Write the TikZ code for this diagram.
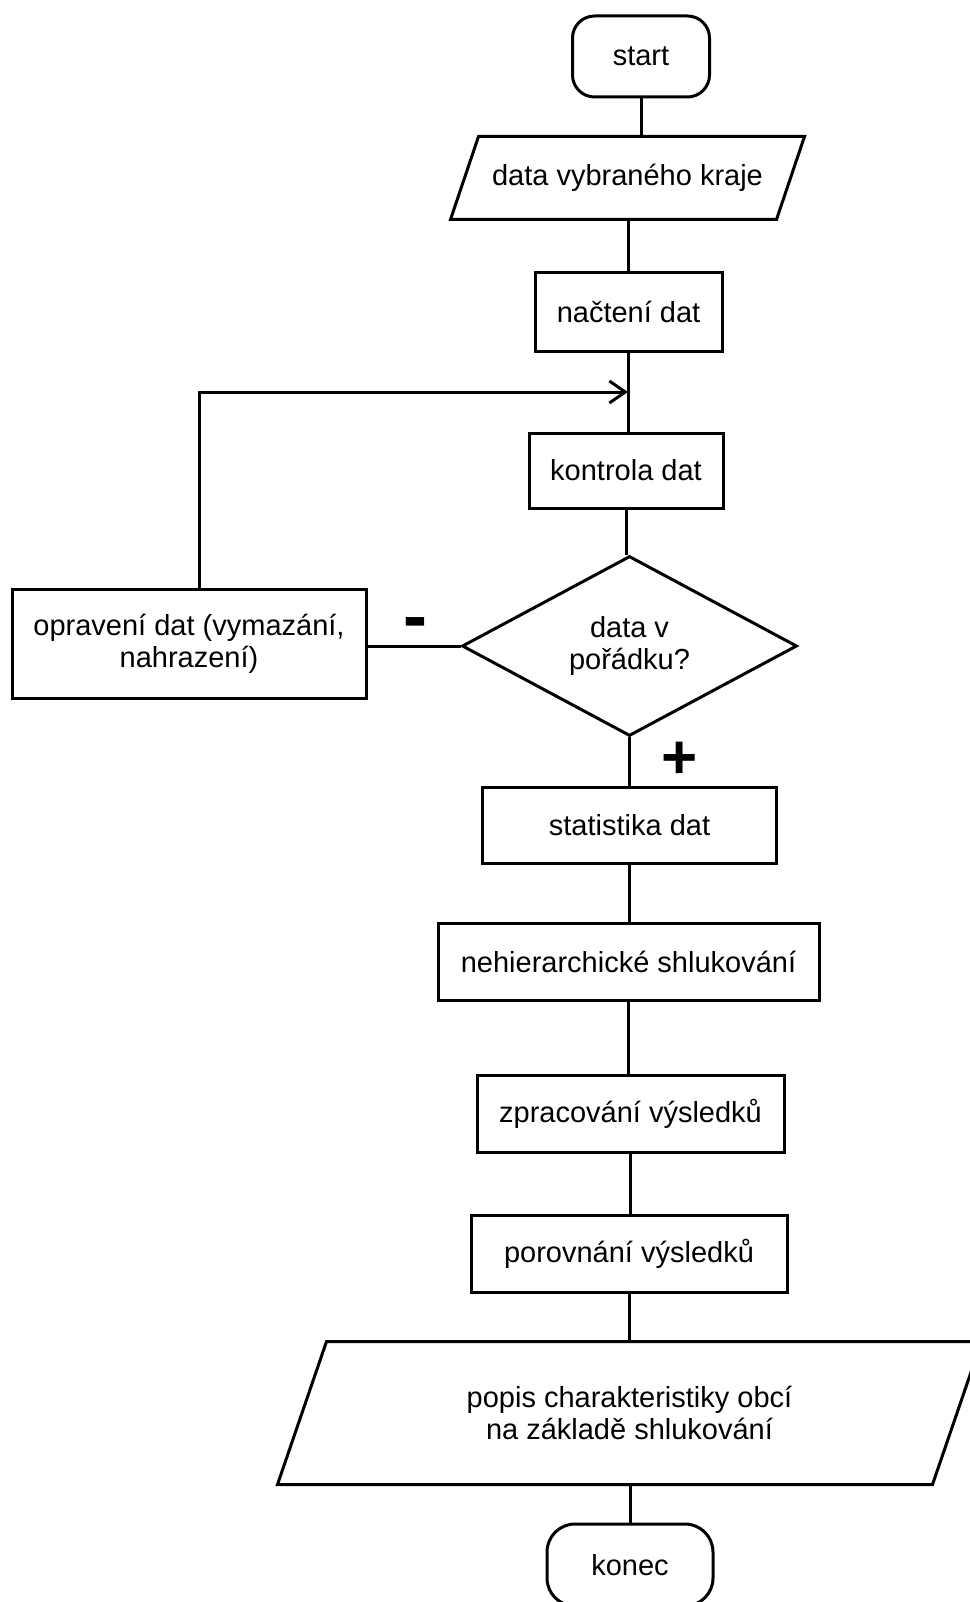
\documentclass[tikz,border=0pt]{standalone}
\usepackage{fontspec}
\setmainfont{Liberation Sans}
\usetikzlibrary{shapes.geometric,arrows.meta}
\begin{document}
\begin{tikzpicture}[x=1pt,y=-1pt,line width=3pt,
  every node/.style={font=\fontsize{29}{32}\selectfont,text=black,inner sep=0pt,align=center},
  stepbox/.style={draw,rectangle},
  term/.style={draw,rectangle,rounded corners=#1},
  term/.default=22pt,
  ghost/.style={rectangle},
  decision/.style={draw,diamond},
  sign/.style={font=\bfseries\fontsize{#1}{#1}\selectfont},
  link/.style={line width=3pt},
  back/.style={line width=3pt,-{Straight Barb[length=16pt,width=22pt]}},
]
\useasboundingbox (0,0) rectangle (969,1602);
\fill[white] (0,0) rectangle (969,1602);

% nodes
\node[term,minimum width=137pt,minimum height=81pt] (start) at (641,56.5) {start};
\node[ghost,minimum width=351pt,minimum height=80pt] (p1) at (627.5,178) {data vybraného kraje};
\draw ([xshift=28pt]p1.north west) -- (p1.north east) -- ([xshift=-28pt]p1.south east) -- (p1.south west) -- cycle;
\node[stepbox,minimum width=187pt,minimum height=78pt] (nac) at (628.5,312) {načtení dat};
\node[stepbox,minimum width=194pt,minimum height=75pt] (kon) at (626,470.5) {kontrola dat};
\node[decision,minimum width=335pt,minimum height=174pt] (dia) at (629.5,646) {data v\\pořádku?};
\node[stepbox,minimum width=354pt,minimum height=109pt] (opr) at (189,643.5) {opravení dat (vymazání,\\nahrazení)};
\node[stepbox,minimum width=294pt,minimum height=76pt] (stat) at (629.5,825) {statistika dat};
\node[stepbox,minimum width=381pt,minimum height=77pt] (neh) at (628.5,961.5) {nehierarchické shlukování};
\node[stepbox,minimum width=307pt,minimum height=77pt] (zpr) at (630.5,1113.5) {zpracování výsledků};
\node[stepbox,minimum width=316pt,minimum height=77pt] (por) at (629,1253.5) {porovnání výsledků};
\node[ghost,minimum width=701pt,minimum height=140pt] (p2) at (629.5,1413) {popis charakteristiky obcí\\na základě shlukování};
\draw ([xshift=49pt]p2.north west) -- (p2.north east) -- ([xshift=-49pt]p2.south east) -- (p2.south west) -- cycle;
\node[term=28pt,minimum width=166pt,minimum height=82pt] (konec) at (630,1565) {konec};

\node[sign=72] (minus) at (415,629) {-};
\node[sign=62] (plus) at (680,760) {+};

% connectors
\draw[link] (start.south) -- (start.south |- p1.north);
\draw[link] (nac.north |- p1.south) -- (nac.north);
\draw[link] (nac.south) -- (nac.south |- kon.north);
\draw[link] (kon.south) -- (kon.south |- dia.north);
\draw[link] (dia.south) -- (dia.south |- stat.north);
\draw[link] (stat.south) -- (stat.south |- neh.north);
\draw[link] (neh.south) -- (neh.south |- zpr.north);
\draw[link] (zpr.south) -- (zpr.south |- por.north);
\draw[link] (por.south) -- (por.south |- p2.north);
\draw[link] (konec.north |- p2.south) -- (konec.north);
\draw[link] (dia.west) -- (dia.west -| opr.east);
\coordinate (join) at (628,392);
\draw[back] ([xshift=10pt]opr.north) |- (join);
\end{tikzpicture}
\end{document}
